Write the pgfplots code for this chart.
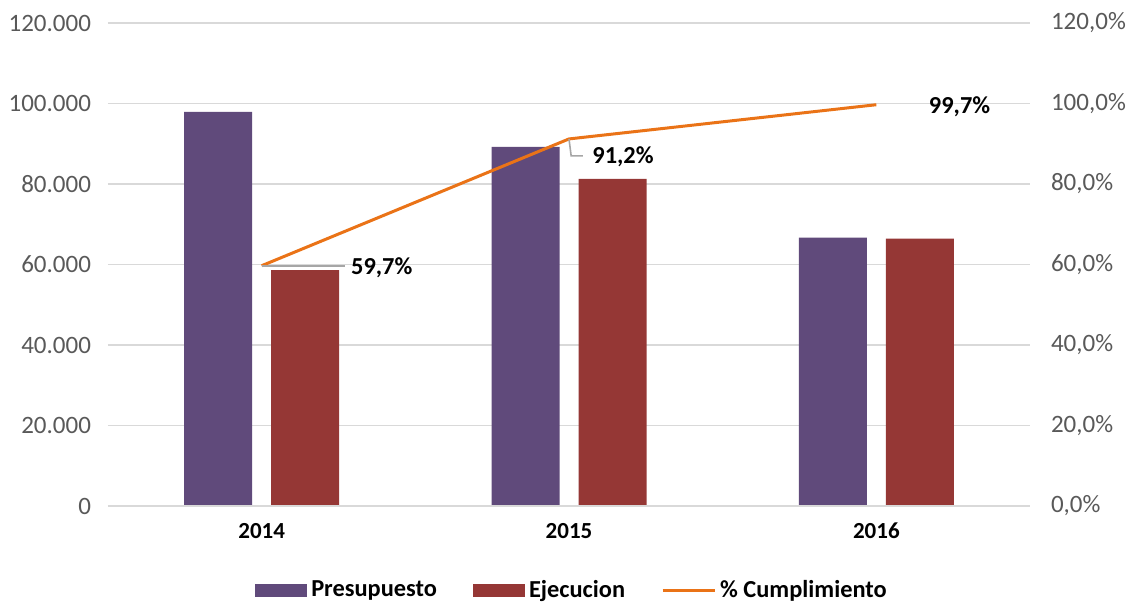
\documentclass[border=0pt]{standalone}
\usepackage{fontspec}
\setmainfont{Carlito}
\usepackage{pgfplots}
\pgfplotsset{compat=1.18}

\definecolor{presu}{HTML}{604A7B}
\definecolor{ejec}{HTML}{953735}
\definecolor{cumpl}{HTML}{EA7317}
\definecolor{gridc}{HTML}{D9D9D9}
\definecolor{tickc}{HTML}{595959}

\begin{document}
\begin{tikzpicture}
\useasboundingbox (-54pt,-48pt) rectangle (511.5pt,253pt);

% bars, left axis
\begin{axis}[
    at={(0,0)}, anchor=south west,
    scale only axis, width=461pt, height=241.5pt,
    xmin=-0.5, xmax=2.5, ymin=0, ymax=120000,
    scaled y ticks=false,
    axis x line=none, axis y line*=left, y axis line style={draw=none},
    ytick={0,20000,40000,60000,80000,100000,120000},
    yticklabels={0,20.000,40.000,60.000,80.000,100.000,120.000},
    major tick length=0pt,
    ymajorgrids, grid style={gridc, line width=0.8pt},
    yticklabel style={font=\fontsize{12.5}{14}\selectfont, text=tickc, xshift=-5pt},
    ybar, bar width=34pt,
    legend style={at={(232.5pt,-42pt)}, anchor=center, draw=none, fill=none,
        legend columns=3, font=\fontsize{12.2}{14}\selectfont\bfseries,
        /tikz/every even column/.append style={column sep=16pt}},
    legend image code/.code={\fill[#1] (0pt,-3.25pt) rectangle (26pt,3.25pt);},
]
\addplot[fill=presu, draw=none, bar shift=-21.75pt] coordinates {(0,97900) (1,89200) (2,66700)};
\addlegendentry{Presupuesto}
\addplot[fill=ejec, draw=none, bar shift=21.75pt] coordinates {(0,58600) (1,81300) (2,66400)};
\addlegendentry{Ejecucion}
\addlegendimage{legend image code/.code={\draw[cumpl, line width=1.5pt] (0pt,0pt) -- (26pt,0pt);}}
\addlegendentry{\% Cumplimiento}
\end{axis}

% percentage line, right axis
\begin{axis}[
    at={(0,0)}, anchor=south west,
    scale only axis, width=461pt, height=241.5pt,
    xmin=-0.5, xmax=2.5, ymin=0, ymax=120,
    axis x line*=bottom, x axis line style={draw=gridc, line width=0.8pt},
    xtick={0,1,2}, xticklabels={2014,2015,2016},
    xticklabel style={font=\fontsize{11.5}{13}\selectfont\bfseries, yshift=-5pt},
    axis y line*=right, y axis line style={draw=none},
    ytick={0,20,40,60,80,100,120},
    yticklabels={{0,0\%},{20,0\%},{40,0\%},{60,0\%},{80,0\%},{100,0\%},{120,0\%}},
    yticklabel style={font=\fontsize{12.5}{14}\selectfont, text=tickc, xshift=7pt},
    major tick length=0pt,
    clip=false,
]
\addplot[cumpl, line width=1.5pt, mark=none] coordinates {(0,59.7) (1,91.2) (2,99.7)};
% leader lines
\draw[gray!70, line width=0.8pt] (axis cs:0,59.7) -- (axis cs:0.27,59.7);
\draw[gray!70, line width=0.8pt] (axis cs:1,91.2) -- (axis cs:1.007,87.0) -- (axis cs:1.045,87.0);
% data labels
\node[anchor=west, font=\fontsize{12.2}{14}\selectfont\bfseries, inner sep=0pt] at (axis cs:0.29,59.1) {59,7\%};
\node[anchor=west, font=\fontsize{12.2}{14}\selectfont\bfseries, inner sep=0pt] at (axis cs:1.075,86.8) {91,2\%};
\node[anchor=west, font=\fontsize{12.2}{14}\selectfont\bfseries, inner sep=0pt] at (axis cs:2.17,99.1) {99,7\%};
\end{axis}
\end{tikzpicture}
\end{document}
